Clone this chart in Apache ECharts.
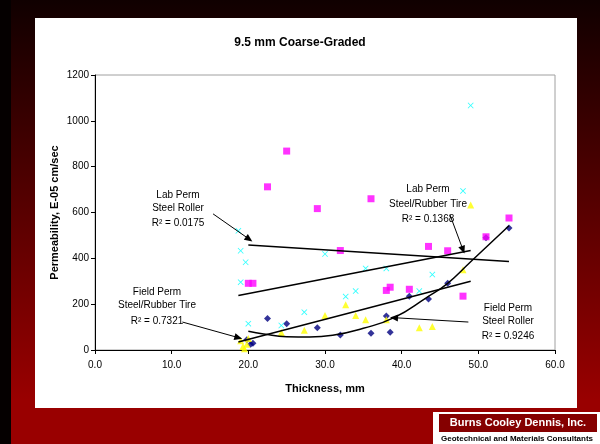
<!DOCTYPE html>
<html><head><meta charset="utf-8">
<script src="https://cdn.jsdelivr.net/npm/echarts@6/dist/echarts.min.js"></script>
<style>html,body{margin:0;padding:0;background:#000;}#c{width:600px;height:444px;}</style>
</head><body><div id="c"></div>
<script>
// Data (Thickness mm, Permeability E-05 cm/sec)
const fieldSteelRoller = [[19.8,45],[20.3,25],[20.6,30],[22.5,137],[25.0,115],[29.0,97],[32.0,65],[36.0,73],[38.0,148],[38.5,77],[41.0,235],[43.5,223],[46.0,291],[51.0,490],[54.0,532]];
const fieldSteelRubber = [[19.0,40],[19.3,15],[19.5,5],[19.8,25],[20.0,50],[24.3,76],[27.3,86],[30.0,151],[32.7,197],[34.0,151],[35.3,132],[38.0,132],[42.3,97],[44.0,103],[48.0,350],[49.0,633]];
const labSteelRoller = [[20.0,291],[20.6,291],[22.5,712],[25.0,868],[29.0,617],[32.0,434],[36.0,660],[38.0,260],[38.5,274],[41.0,265],[43.5,452],[46.0,433],[48.0,235],[51.0,494],[54.0,576]];
const labSteelRubber = [[18.7,520],[19.0,433],[19.65,383],[19.0,296],[20.0,115],[24.3,107],[27.3,165],[30.0,419],[32.7,233],[34.0,257],[35.3,356],[38.0,356],[42.3,257],[44.0,329],[48.0,694],[49.0,1067]];
// Trendlines
const trendLabRoller = [[20,458],[54,386]];
const trendLabRubber = [[18.7,238],[49,434]];
const trendFieldRubber = [[18.7,35],[49,300]];
const trendFieldRoller = [[20,82],[22,70],[25,58],[28,57],[31,64],[35,95],[39,141],[43.3,230],[46,291],[49,385],[54,542]];
// Axis
const xMin = 0, xMax = 60, xStep = 10;
const yMin = 0, yMax = 1200, yStep = 200;
// Annotation arrows (data coords)
const arrows = [
  [[15.4,594],[20.1,484]],
  [[46.3,590],[48.0,437]],
  [[11.4,122],[18.7,54]],
  [[48.7,122],[39.0,141]]
];
const notes = [
  {x:178, y:[195,208,223], lines:['Lab Perm','Steel Roller','R² = 0.0175']},
  {x:428, y:[189,204,219], lines:['Lab Perm','Steel/Rubber Tire','R² = 0.1368']},
  {x:157, y:[292,305,321], lines:['Field Perm','Steel/Rubber Tire','R² = 0.7321']},
  {x:508, y:[308,321,336], lines:['Field Perm','Steel Roller','R² = 0.9246']}
];

const FONT = '"Liberation Sans", Arial, sans-serif';
const chart = echarts.init(document.getElementById('c'), null, {renderer:'canvas'});

const graphics = [
  {type:'rect', z:-100, shape:{x:0,y:0,width:600,height:444},
   style:{fill:new echarts.graphic.LinearGradient(0,0,0,1,[{offset:0,color:'#100000'},{offset:0.9,color:'#990000'},{offset:1,color:'#990000'}])}},
  {type:'rect', z:-99, shape:{x:0,y:0,width:11,height:444}, style:{fill:'#050000'}},
  {type:'rect', z:-98, shape:{x:35,y:18,width:542,height:390}, style:{fill:'#ffffff'}},
  {type:'rect', z:-98, shape:{x:433,y:412,width:167,height:32}, style:{fill:'#ffffff'}},
  {type:'rect', z:-97, shape:{x:439,y:414,width:158,height:18}, style:{fill:'#850000'}},
  {type:'text', z:10, style:{x:518,y:423,text:'Burns Cooley Dennis, Inc.',fill:'#ffffff',font:'bold 11px '+FONT,textAlign:'center',textVerticalAlign:'middle'}},
  {type:'text', z:10, style:{x:517,y:438.5,text:'Geotechnical and Materials Consultants',fill:'#000000',font:'bold 8px '+FONT,textAlign:'center',textVerticalAlign:'middle'}}
];
notes.forEach(n => n.lines.forEach((t,i) => graphics.push({type:'text', z:10,
  style:{x:n.x, y:n.y[i], text:t, fill:'#000', font:'10px '+FONT, textAlign:'center', textVerticalAlign:'middle'}})));

const option = {
  animation:false,
  title:{text:'9.5 mm Coarse-Graded', left:'center', top:32, textStyle:{fontFamily:FONT, fontSize:12, fontWeight:'bold', color:'#000'}},
  graphic:graphics,
  grid:{left:95, right:45, top:75, bottom:94, show:true, borderColor:'#a0a0a0', borderWidth:1, backgroundColor:'transparent'},
  xAxis:{type:'value', min:xMin, max:xMax, interval:xStep,
    name:'Thickness, mm', nameLocation:'middle', nameGap:33, nameMoveOverlap:false,
    nameTextStyle:{fontFamily:FONT, fontSize:11, fontWeight:'bold', color:'#000'},
    axisLine:{lineStyle:{color:'#000', width:1}}, axisTick:{show:true, length:4, lineStyle:{color:'#000'}},
    axisLabel:{fontFamily:FONT, fontSize:10, color:'#000', margin:10, formatter:v=>v.toFixed(1)},
    splitLine:{show:false}},
  yAxis:{type:'value', min:yMin, max:yMax, interval:yStep,
    name:'Permeability, E-05 cm/sec', nameLocation:'middle', nameGap:35, nameMoveOverlap:false,
    nameTextStyle:{fontFamily:FONT, fontSize:11, fontWeight:'bold', color:'#000'},
    axisLine:{show:true, lineStyle:{color:'#000', width:1}}, axisTick:{show:true, length:4, lineStyle:{color:'#000'}},
    axisLabel:{fontFamily:FONT, fontSize:10, color:'#000', margin:6, formatter:v=>String(v)},
    splitLine:{show:false}},
  series:[
    {name:'Field Perm Steel Roller', type:'scatter', data:fieldSteelRoller, symbol:'diamond', symbolSize:7, itemStyle:{color:'#000080'}, z:3},
    {name:'Field Perm Steel/Rubber Tire', type:'scatter', data:fieldSteelRubber, symbol:'triangle', symbolSize:7, itemStyle:{color:'#ffff00'}, z:3},
    {name:'Lab Perm Steel Roller', type:'scatter', data:labSteelRoller, symbol:'rect', symbolSize:7, itemStyle:{color:'#ff00ff'}, z:3},
    {name:'Lab Perm Steel/Rubber Tire', type:'scatter', data:labSteelRubber,
     symbol:'path://M0,1L1,0L5,4L9,0L10,1L6,5L10,9L9,10L5,6L1,10L0,9L4,5Z', symbolSize:6, itemStyle:{color:'#00ffff'}, z:3},
    {type:'line', data:trendLabRoller, symbol:'none', lineStyle:{color:'#000', width:1.5}, z:4},
    {type:'line', data:trendLabRubber, symbol:'none', lineStyle:{color:'#000', width:1.5}, z:4},
    {type:'line', data:trendFieldRubber, symbol:'none', lineStyle:{color:'#000', width:1.5}, z:4},
    {type:'line', data:trendFieldRoller, symbol:'none', smooth:true, lineStyle:{color:'#000', width:1.5}, z:4,
     markLine:{silent:true, symbol:['none','triangle'], symbolSize:[7,8], label:{show:false},
       lineStyle:{color:'#000', width:1, type:'solid'},
       data: arrows.map(a => [{coord:a[0]},{coord:a[1]}])}}
  ]
};
chart.setOption(option);
</script></body></html>
